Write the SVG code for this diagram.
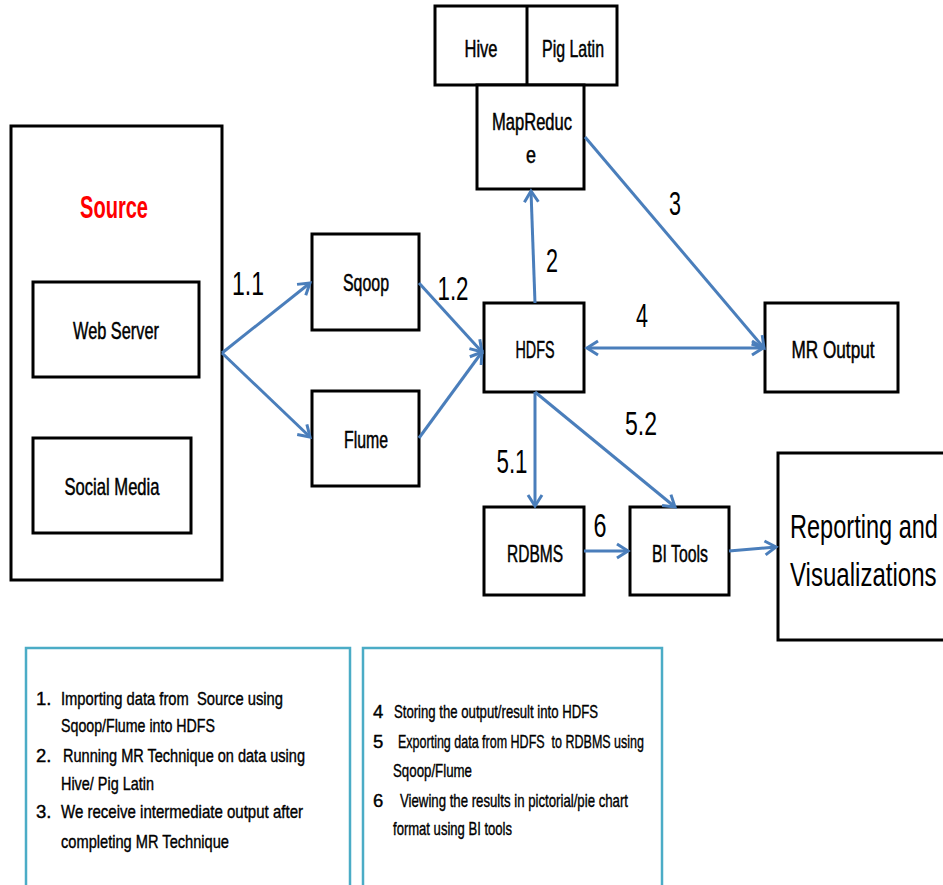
<svg xmlns="http://www.w3.org/2000/svg" width="943" height="885" viewBox="0 0 943 885">
<style>
.box{fill:#fff;stroke:#000;stroke-width:3}
.lg{fill:#fff;stroke:#4BACC6;stroke-width:2.5}
.t{font-family:"Liberation Sans",Arial,sans-serif;font-size:24px;fill:#000;stroke:#000;stroke-width:0.5;text-anchor:middle}
.n{font-family:"Liberation Sans",Arial,sans-serif;font-size:34px;fill:#000;text-anchor:middle}
.l{font-family:"Liberation Sans",Arial,sans-serif;font-size:18.5px;fill:#000;stroke:#000;stroke-width:0.4;white-space:pre}
.c{fill:none;stroke:#4A7EBB;stroke-width:3}
</style>
<defs>
<marker id="ah" markerUnits="userSpaceOnUse" markerWidth="20" markerHeight="20" refX="0" refY="0" viewBox="-14 -10 16 20" orient="auto-start-reverse">
<path d="M-11,-7 L0,0 L-11,7" fill="none" stroke="#4A7EBB" stroke-width="3"/>
</marker>
</defs>
<rect width="943" height="885" fill="#fff"/>

<g id="source">
<rect class="box" x="11" y="126" width="211" height="454"/>
<text x="114" y="218" font-family="Liberation Sans,Arial,sans-serif" font-size="32" font-weight="bold" fill="#FF0000" text-anchor="middle" textLength="68" lengthAdjust="spacingAndGlyphs">Source</text>
</g>
<g id="webserver">
<rect class="box" x="33" y="282" width="166" height="95"/>
<text class="t" x="116" y="339" textLength="86" lengthAdjust="spacingAndGlyphs">Web Server</text>
</g>
<g id="socialmedia">
<rect class="box" x="33" y="438" width="158" height="95"/>
<text class="t" x="112" y="495" textLength="95" lengthAdjust="spacingAndGlyphs">Social Media</text>
</g>
<g id="sqoop">
<rect class="box" x="312" y="234" width="107" height="96"/>
<text class="t" x="366" y="291" textLength="46" lengthAdjust="spacingAndGlyphs">Sqoop</text>
</g>
<g id="flume">
<rect class="box" x="312" y="391" width="107" height="95"/>
<text class="t" x="366" y="448" textLength="44" lengthAdjust="spacingAndGlyphs">Flume</text>
</g>
<g id="hivepig">
<rect class="box" x="435" y="6" width="182" height="79"/>
<line x1="527" y1="6" x2="527" y2="85" stroke="#000" stroke-width="3"/>
<text class="t" x="481" y="57" textLength="33" lengthAdjust="spacingAndGlyphs">Hive</text>
<text class="t" x="573" y="57" textLength="62" lengthAdjust="spacingAndGlyphs">Pig Latin</text>
</g>
<g id="mapreduce">
<rect class="box" x="477" y="85" width="107" height="104"/>
<text class="t" x="532" y="130" textLength="80" lengthAdjust="spacingAndGlyphs">MapReduc</text>
<text class="t" x="531" y="163" textLength="10" lengthAdjust="spacingAndGlyphs">e</text>
</g>
<g id="hdfs">
<rect class="box" x="484" y="303" width="100" height="89"/>
<text class="t" x="535" y="358" textLength="39" lengthAdjust="spacingAndGlyphs">HDFS</text>
</g>
<g id="mroutput">
<rect class="box" x="765" y="303" width="133" height="89"/>
<text class="t" x="833" y="358" textLength="83" lengthAdjust="spacingAndGlyphs">MR Output</text>
</g>
<g id="rdbms">
<rect class="box" x="484" y="507" width="100" height="88"/>
<text class="t" x="535" y="562" textLength="56" lengthAdjust="spacingAndGlyphs">RDBMS</text>
</g>
<g id="bitools">
<rect class="box" x="630" y="507" width="99" height="88"/>
<text class="t" x="680" y="562" textLength="56" lengthAdjust="spacingAndGlyphs">BI Tools</text>
</g>
<g id="reporting">
<rect class="box" x="778" y="453" width="180" height="187"/>
<text transform="translate(790,538) scale(0.714,1)" x="0" y="0" font-family="Liberation Sans,Arial,sans-serif" font-size="33" fill="#000">Reporting and</text>
<text transform="translate(790,586) scale(0.729,1)" x="0" y="0" font-family="Liberation Sans,Arial,sans-serif" font-size="33" fill="#000">Visualizations</text>
</g>

<g id="connectors">
<path class="c" d="M222,353 L310,283" marker-end="url(#ah)"/>
<path class="c" d="M222,353 L310,437" marker-end="url(#ah)"/>
<path class="c" d="M419,283 L482,352" marker-end="url(#ah)"/>
<path class="c" d="M419,438 L482,352" marker-end="url(#ah)"/>
<path class="c" d="M535,303 L531,191" marker-end="url(#ah)"/>
<path class="c" d="M585,137 L764,348" marker-end="url(#ah)"/>
<path class="c" d="M587,348 L763,348" marker-start="url(#ah)" marker-end="url(#ah)"/>
<path class="c" d="M535,392 L535,506" marker-end="url(#ah)"/>
<path class="c" d="M535,392 L675,507" marker-end="url(#ah)"/>
<path class="c" d="M584,551 L628,551" marker-end="url(#ah)"/>
<path class="c" d="M729,551 L776,547" marker-end="url(#ah)"/>
<text class="n" x="248" y="295" textLength="32" lengthAdjust="spacingAndGlyphs">1.1</text>
<text class="n" x="453" y="300" textLength="31" lengthAdjust="spacingAndGlyphs">1.2</text>
<text class="n" x="552" y="272" textLength="12" lengthAdjust="spacingAndGlyphs">2</text>
<text class="n" x="675" y="215" textLength="12" lengthAdjust="spacingAndGlyphs">3</text>
<text class="n" x="642" y="327" textLength="12" lengthAdjust="spacingAndGlyphs">4</text>
<text class="n" x="512" y="473" textLength="31" lengthAdjust="spacingAndGlyphs">5.1</text>
<text class="n" x="641" y="435" textLength="32" lengthAdjust="spacingAndGlyphs">5.2</text>
<text class="n" x="600" y="537" textLength="13" lengthAdjust="spacingAndGlyphs">6</text>
</g>

<g id="legend1">
<rect class="lg" x="26" y="648" width="324" height="250"/>
<text class="l" x="36" y="705">1.</text>
<text class="l" x="61" y="705" textLength="222" lengthAdjust="spacingAndGlyphs">Importing data from  Source using</text>
<text class="l" x="61" y="732" textLength="154" lengthAdjust="spacingAndGlyphs">Sqoop/Flume into HDFS</text>
<text class="l" x="36" y="762">2.</text>
<text class="l" x="63" y="762" textLength="242" lengthAdjust="spacingAndGlyphs">Running MR Technique on data using</text>
<text class="l" x="61" y="790" textLength="93" lengthAdjust="spacingAndGlyphs">Hive/ Pig Latin</text>
<text class="l" x="36" y="818">3.</text>
<text class="l" x="61" y="818" textLength="242" lengthAdjust="spacingAndGlyphs">We receive intermediate output after</text>
<text class="l" x="61" y="848" textLength="168" lengthAdjust="spacingAndGlyphs">completing MR Technique</text>
</g>
<g id="legend2">
<rect class="lg" x="363" y="648" width="299" height="250"/>
<text class="l" x="373" y="718">4</text>
<text class="l" x="394" y="718" textLength="204" lengthAdjust="spacingAndGlyphs">Storing the output/result into HDFS</text>
<text class="l" x="373" y="748">5</text>
<text class="l" x="398" y="748" textLength="246" lengthAdjust="spacingAndGlyphs">Exporting data from HDFS  to RDBMS using</text>
<text class="l" x="393" y="777" textLength="79" lengthAdjust="spacingAndGlyphs">Sqoop/Flume</text>
<text class="l" x="373" y="807">6</text>
<text class="l" x="400" y="807" textLength="228" lengthAdjust="spacingAndGlyphs">Viewing the results in pictorial/pie chart</text>
<text class="l" x="393" y="835" textLength="119" lengthAdjust="spacingAndGlyphs">format using BI tools</text>
</g>
</svg>
